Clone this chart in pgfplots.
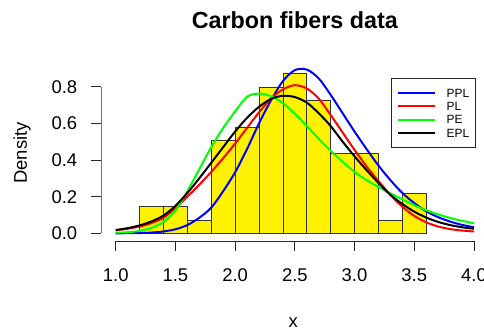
\documentclass[border=0pt]{standalone}
\usepackage{pgfplots}
\pgfplotsset{compat=1.18}
\usepackage{pgfplotstable}
\usepackage{fontspec}
\setmainfont{Liberation Sans}

% histogram (density, bins of width 0.2; last row closes the interval)
\pgfplotstableread{
x y
1.2 0.14493
1.4 0.14493
1.6 0.07246
1.8 0.50725
2.0 0.57971
2.2 0.79710
2.4 0.86957
2.6 0.72464
2.8 0.43478
3.0 0.43478
3.2 0.07246
3.4 0.21739
3.6 0.21739
}\histdata

\pgfplotstableread{
x ppl pl pe epl
1.0 0.0000 0.016 0.003 0.018
1.1 0.0005 0.025 0.006 0.028
1.2 0.0015 0.037 0.013 0.043
1.3 0.0040 0.056 0.030 0.065
1.4 0.0100 0.085 0.062 0.097
1.5 0.0220 0.138 0.125 0.150
1.6 0.0450 0.200 0.230 0.220
1.7 0.0850 0.265 0.350 0.300
1.8 0.1400 0.335 0.470 0.385
1.9 0.2300 0.410 0.575 0.470
2.0 0.3330 0.490 0.665 0.555
2.1 0.4600 0.575 0.745 0.630
2.2 0.6000 0.660 0.762 0.690
2.3 0.7250 0.735 0.748 0.733
2.4 0.8300 0.785 0.710 0.750
2.5 0.8900 0.808 0.652 0.743
2.6 0.8930 0.790 0.585 0.713
2.7 0.8450 0.735 0.515 0.655
2.8 0.7550 0.645 0.450 0.585
2.9 0.6550 0.550 0.390 0.500
3.0 0.5550 0.455 0.335 0.420
3.1 0.4600 0.365 0.290 0.345
3.2 0.3700 0.285 0.253 0.275
3.3 0.2900 0.210 0.218 0.210
3.4 0.2200 0.145 0.185 0.160
3.5 0.1650 0.095 0.153 0.118
3.6 0.1200 0.060 0.126 0.086
3.7 0.0880 0.037 0.103 0.062
3.8 0.0640 0.023 0.084 0.045
3.9 0.0460 0.015 0.068 0.033
4.0 0.0330 0.010 0.055 0.025
}\curves

\begin{document}
\begin{tikzpicture}[x=1bp,y=1bp]
\begin{axis}[
  at={(0bp,0bp)}, anchor=south west,
  scale only axis, width=386.9bp, height=176bp,
  xmin=0.88, xmax=4.12, ymin=-0.042, ymax=0.918,
  axis lines=left, axis line style={draw=none},
  xtick={1,1.5,2,2.5,3,3.5,4}, ytick={0,0.2,0.4,0.6,0.8},
  tick align=outside, major tick length=10bp,
  tick style={black!85, line width=0.8bp},
  ticklabel style={font=\fontsize{18.5}{20}\selectfont, inner sep=0pt},
  xticklabel style={anchor=base, yshift=-30bp},
  yticklabel style={anchor=base east, xshift=-14bp, yshift=-6.6bp},
  /pgf/number format/.cd, fixed, fixed zerofill, precision=1, assume math mode=true,
  /pgfplots/.cd,
  legend style={at={(axis cs:3.303,0.8456)}, anchor=north west,
    draw=black!85, line width=0.8bp, fill=white,
    font=\fontsize{12}{13}\selectfont,
    inner xsep=6bp, inner ysep=9.7bp, row sep=3.6bp, column sep=10.5bp,
    nodes={inner sep=0.5bp, text height=8.6bp, text depth=0bp},
    cells={anchor=west}},
  legend image code/.code={\path (0bp,0bp) -- (36.6bp,0bp);
    \draw[#1] (6bp,0bp) -- (30.6bp,0bp);},
]
\addplot[ybar interval, fill=yellow, draw=black!80, line width=0.8bp, forget plot] table[x=x, y=y] {\histdata};
\addplot[blue, line width=2bp, smooth, tension=0.5] table[x=x, y=ppl] {\curves};
\addlegendentry{PPL}
\addplot[red, line width=2bp, smooth, tension=0.5] table[x=x, y=pl] {\curves};
\addlegendentry{PL}
\addplot[green, line width=2bp, smooth, tension=0.5] table[x=x, y=pe] {\curves};
\addlegendentry{PE}
\addplot[black, line width=2bp, smooth, tension=0.5] table[x=x, y=epl] {\curves};
\addlegendentry{EPL}
\draw[black!85, line width=0.8bp] (axis cs:1,-0.042) -- (axis cs:4,-0.042);
\draw[black!85, line width=0.8bp] (axis cs:0.88,0) -- (axis cs:0.88,0.8);
\end{axis}
\node[anchor=base, font=\bfseries\fontsize{23.4}{26}\selectfont] at (193.4bp,212bp) {Carbon fibers data};
\node[anchor=base, font=\fontsize{18.5}{20}\selectfont] at (191.9bp,-86.5bp) {x};
\node[rotate=90, anchor=base, font=\fontsize{18.5}{20}\selectfont] at (-74.6bp,88bp) {Density};
\pgfresetboundingbox
\path[use as bounding box] (-101.4bp,-90bp) rectangle (382.6bp,241bp);
\end{tikzpicture}
\end{document}
